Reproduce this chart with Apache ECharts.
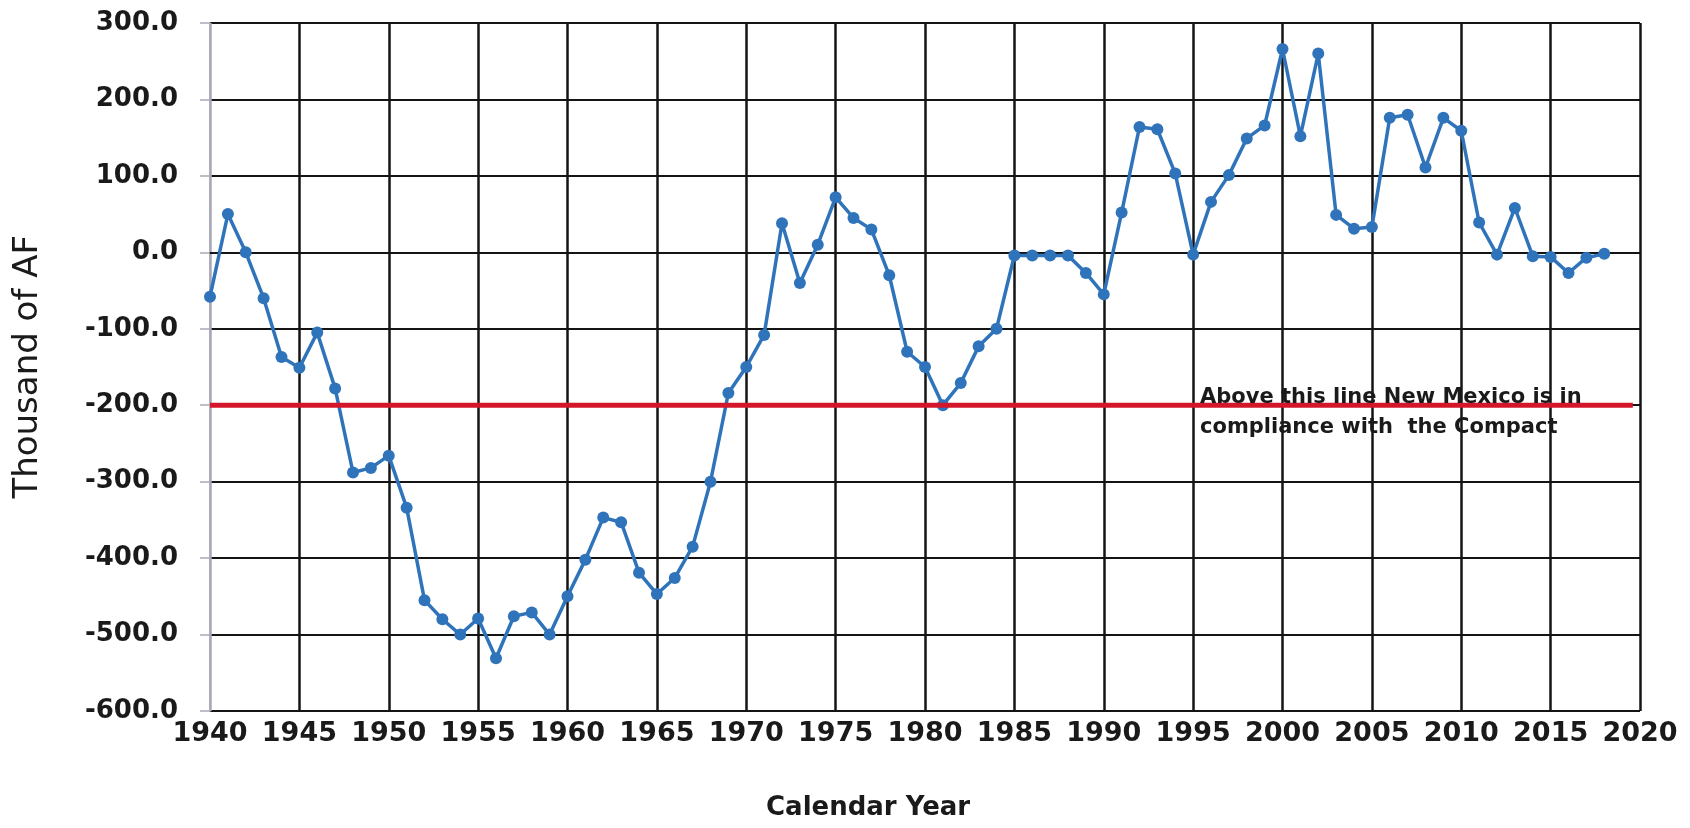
<!DOCTYPE html>
<html>
<head>
<meta charset="utf-8">
<title>Thousand of AF by Calendar Year</title>
<script src="https://cdn.jsdelivr.net/npm/echarts@6/dist/echarts.min.js"></script>
<style>
    html, body { margin: 0; padding: 0; background: #ffffff; }
    #chart { width: 1690px; height: 828px; }
</style>
</head>
<body>
<div id="chart"></div>
<script>
// values
const years = [
    1940, 1941, 1942, 1943, 1944, 1945, 1946, 1947, 1948, 1949,
    1950, 1951, 1952, 1953, 1954, 1955, 1956, 1957, 1958, 1959,
    1960, 1961, 1962, 1963, 1964, 1965, 1966, 1967, 1968, 1969,
    1970, 1971, 1972, 1973, 1974, 1975, 1976, 1977, 1978, 1979,
    1980, 1981, 1982, 1983, 1984, 1985, 1986, 1987, 1988, 1989,
    1990, 1991, 1992, 1993, 1994, 1995, 1996, 1997, 1998, 1999,
    2000, 2001, 2002, 2003, 2004, 2005, 2006, 2007, 2008, 2009,
    2010, 2011, 2012, 2013, 2014, 2015, 2016, 2017, 2018
]
const balance = [
    -58, 50, 0, -60, -137, -151, -105, -178, -288, -282,
    -266, -334, -455, -480, -500, -479, -531, -476, -471, -500,
    -450, -402, -347, -353, -419, -447, -426, -385, -300, -184,
    -150, -108, 38, -40, 10, 72, 45, 30, -30, -130,
    -150, -200, -171, -123, -100, -4, -4, -4, -4, -27,
    -55, 52, 164, 161, 103, -3, 66, 101, 149, 166,
    266, 152, 260, 49, 31, 33, 176, 180, 111, 176,
    159, 39, -3, 58, -5, -6, -27, -7, -2
]
const complianceLevel = -200
const complianceSpan = [1940, 2019.6]
const noteLines = ['Above this line New Mexico is in', 'compliance with  the Compact']

const chart = echarts.init(document.getElementById('chart'))

const seriesData = years.map((y, i) => [y, balance[i]])
// first vertical line (1940) is the light grey y axis, the rest are black
const vColors = ['#a9a9b6']
for (let i = 0; i < 16; i++) vColors.push('#141414')

const options = {
    backgroundColor: '#ffffff',
    animation: false,
    grid: { left: 210, right: 50, top: 23, bottom: 117 },
    xAxis: {
        type: 'value',
        min: 1940,
        max: 2020,
        interval: 5,
        axisLine: { show: true, lineStyle: { color: '#141414', width: 2 } },
        axisTick: { show: false },
        axisLabel: {
            margin: 9,
            color: '#1a1a1a',
            fontFamily: 'DejaVu Sans',
            fontWeight: 'bold',
            fontSize: 27,
            formatter: v => String(v)
        },
        splitLine: { show: true, lineStyle: { color: vColors, width: 2.5 } }
    },
    yAxis: {
        type: 'value',
        min: -600,
        max: 300,
        interval: 100,
        axisLine: { show: true, lineStyle: { color: '#a9a9b6', width: 1.5 } },
        axisTick: { show: true, inside: false, length: 10, lineStyle: { color: '#a9a9b6', width: 1.5 } },
        axisLabel: {
            margin: 32,
            color: '#1a1a1a',
            fontFamily: 'DejaVu Sans',
            fontWeight: 'bold',
            fontSize: 26,
            formatter: v => v.toFixed(1)
        },
        splitLine: { show: true, lineStyle: { color: '#141414', width: 2 } }
    },
    graphic: [{
        type: 'text',
        left: 11,
        top: 235,
        rotation: Math.PI / 2,
        style: {
            text: 'Thousand of AF',
            fill: '#1a1a1a',
            font: '34px "DejaVu Sans"'
        }
    }, {
        type: 'text',
        left: 766,
        top: 795,
        style: {
            text: 'Calendar Year',
            fill: '#1a1a1a',
            font: 'bold 26px "DejaVu Sans"'
        }
    }, {
        type: 'text',
        left: 1200,
        top: 383,
        z: 20,
        style: {
            text: noteLines.join('\n'),
            fill: '#1a1a1a',
            font: 'bold 21px "DejaVu Sans"',
            lineHeight: 30
        }
    }],
    series: [{
        type: 'line',
        name: 'Balance',
        data: seriesData,
        symbol: 'circle',
        symbolSize: 12,
        lineStyle: { color: '#2f74bb', width: 3.5 },
        itemStyle: { color: '#2f74bb' },
        z: 3
    }, {
        type: 'line',
        name: 'Compliance',
        data: complianceSpan.map(x => [x, complianceLevel]),
        symbol: 'none',
        lineStyle: { color: '#d4162b', width: 5 },
        z: 5
    }]
}
chart.setOption(options)
</script>
</body>
</html>
